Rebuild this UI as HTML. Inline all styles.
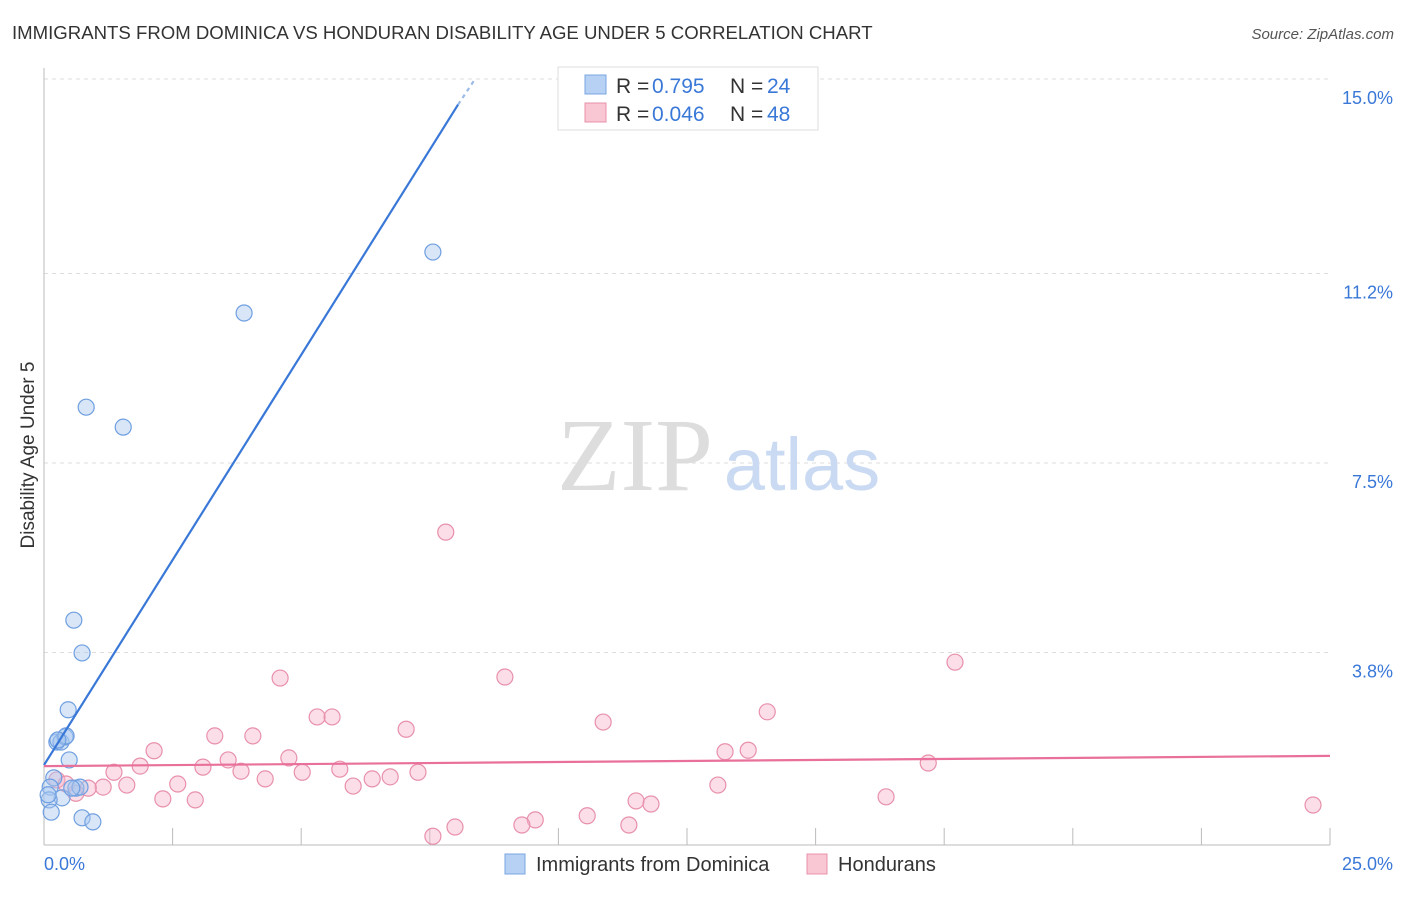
<!DOCTYPE html>
<html><head><meta charset="utf-8"><style>
body{margin:0;background:#fff;font-family:"Liberation Sans",sans-serif;}
svg text{font-family:"Liberation Sans",sans-serif;}
</style></head><body>
<svg id="chart" width="1406" height="892">
<text x="12" y="39" font-size="18.6" fill="#333">IMMIGRANTS FROM DOMINICA VS HONDURAN DISABILITY AGE UNDER 5 CORRELATION CHART</text>
<text x="1394" y="39" font-size="15" fill="#555" font-style="italic" text-anchor="end">Source: ZipAtlas.com</text>
<g id="grid"></g>
<g>
<text x="635" y="490" font-size="104" fill="#ddd" text-anchor="middle" style="font-family:'Liberation Serif',serif">ZIP</text>
<text x="802" y="490" font-size="74" fill="#c9daf2" text-anchor="middle">atlas</text></g>
<text transform="translate(34,455) rotate(-90)" font-size="19" fill="#333" text-anchor="middle">Disability Age Under 5</text>
<g id="marks"></g>
<g>
<rect x="558" y="67" width="260" height="63" fill="#fff" stroke="#ddd"/>
<rect x="585" y="75" width="21" height="19" fill="#b7d1f4" stroke="#7aa6e0"/>
<text x="616" y="93" font-size="21" fill="#333">R =</text>
<text x="652" y="93" font-size="21" fill="#3a78d8">0.795</text>
<text x="730" y="93" font-size="21" fill="#333">N =</text>
<text x="767" y="93" font-size="21" fill="#3a78d8">24</text>
<rect x="585" y="103" width="21" height="19" fill="#f9c6d3" stroke="#e890ab"/>
<text x="616" y="121" font-size="21" fill="#333">R =</text>
<text x="652" y="121" font-size="21" fill="#3a78d8">0.046</text>
<text x="730" y="121" font-size="21" fill="#333">N =</text>
<text x="767" y="121" font-size="21" fill="#3a78d8">48</text>
</g>
<g>
<rect x="505" y="854" width="20" height="20" fill="#b7d1f4" stroke="#7aa6e0"/>
<text x="536" y="871" font-size="20" fill="#333">Immigrants from Dominica</text>
<rect x="807" y="854" width="20" height="20" fill="#f9c6d3" stroke="#e890ab"/>
<text x="838" y="871" font-size="20" fill="#333">Hondurans</text>
</g>
</svg>
<script>
const yTicks=[15.0,11.2,7.5,3.8];
const yTickLabels=["15.0%","11.2%","7.5%","3.8%"];
const xTickLabels=["0.0%","25.0%"];
const blueX=[7.56,3.89,0.82,1.54,0.58,0.74,0.47,0.25,0.33,0.41,0.43,0.49,0.19,0.12,0.35,0.62,0.70,0.10,0.14,0.74,0.95,0.08,0.54,0.27];
const blueY=[11.62,10.43,8.59,8.20,4.43,3.79,2.68,2.05,2.05,2.15,2.17,1.70,1.35,1.17,0.96,1.15,1.17,0.92,0.68,0.57,0.49,1.02,1.15,2.09];
const pinkX=[7.81,17.71,4.59,8.96,14.06,10.87,5.31,5.60,7.04,3.32,4.06,2.14,13.24,13.69,4.76,3.58,1.87,1.36,3.09,3.83,5.75,5.02,7.27,17.19,6.73,6.38,4.30,1.61,2.60,1.15,6.01,13.10,0.86,0.62,2.31,2.94,16.37,11.51,11.80,24.67,10.56,9.55,9.29,7.99,11.37,7.56,0.25,0.43];
const pinkY=[6.15,3.61,3.30,3.32,2.64,2.44,2.54,2.54,2.30,2.17,2.17,1.88,1.86,1.89,1.74,1.70,1.58,1.46,1.56,1.48,1.52,1.46,1.46,1.64,1.37,1.33,1.33,1.21,1.23,1.17,1.19,1.21,1.15,1.05,0.94,0.92,0.98,0.90,0.84,0.82,0.61,0.53,0.43,0.39,0.43,0.21,1.31,1.23];
const blueLine=[[0,1.60],[8.05,14.5]];
const blueDash=[[8.05,14.5],[8.38,15.0]];
const pinkLine=[[0,1.58],[25,1.78]];
const NS="http://www.w3.org/2000/svg";
const X=v=>44+v/25*1286, Y=v=>847-v/3.75*192;
const grid=document.getElementById('grid'), marks=document.getElementById('marks');
function mk(t,a,p){const e=document.createElementNS(NS,t);for(const k in a)e.setAttribute(k,a[k]);p.appendChild(e);return e;}
yTicks.forEach((t,i)=>{
 const l=mk('line',{x1:44,x2:1330,y1:Y(t),y2:Y(t),stroke:'#ddd','stroke-dasharray':'4,4'},grid);
 
 
 const tx=mk('text',{x:1393,y:Y(t)+25,'font-size':18,fill:'#3a78d8','text-anchor':'end'},grid);
 tx.textContent=yTickLabels[i];
 
 
});
const ax=mk('line',{x1:44,x2:1330,y1:845,y2:845,stroke:'#bbb'},grid);


const ay=mk('line',{x1:44,x2:44,y1:68,y2:845,stroke:'#bbb'},grid);


for(let i=0;i<=10;i++){const t=mk('line',{x1:X(i*2.5),x2:X(i*2.5),y1:828,y2:845,stroke:'#bbb'},grid);
 
 }
[['start',44],['end',1393]].forEach(([a,x],i)=>{const t=mk('text',{x:x,y:870,'font-size':18,fill:'#3a78d8','text-anchor':a},grid);t.textContent=xTickLabels[i];
 
 });
function pts(xs,ys,f,s,name){xs.forEach((x,i)=>{const c=mk('circle',{cx:X(x),cy:Y(ys[i]),r:8,fill:f,'fill-opacity':0.45,stroke:s,'stroke-width':1.2},marks);
 
 });}
pts(pinkX,pinkY,'#f7b6c9','#e890ab','honduran-point');
pts(blueX,blueY,'#a9c8f0','#6f9fe0','dominica-point');
function line(p,c,d,name){const l=mk('line',{x1:X(p[0][0]),y1:Y(p[0][1]),x2:X(p[1][0]),y2:Y(p[1][1]),stroke:c,'stroke-width':2.2},marks);if(d)l.setAttribute('stroke-dasharray',d);
 
 }
line(blueLine,'#3a78d8',null,'dominica-trend-line');
line(blueDash,'#9bbbe8','4,4','dominica-trend-extension');
line(pinkLine,'#e8709a',null,'honduran-trend-line');
</script>
</body></html>
